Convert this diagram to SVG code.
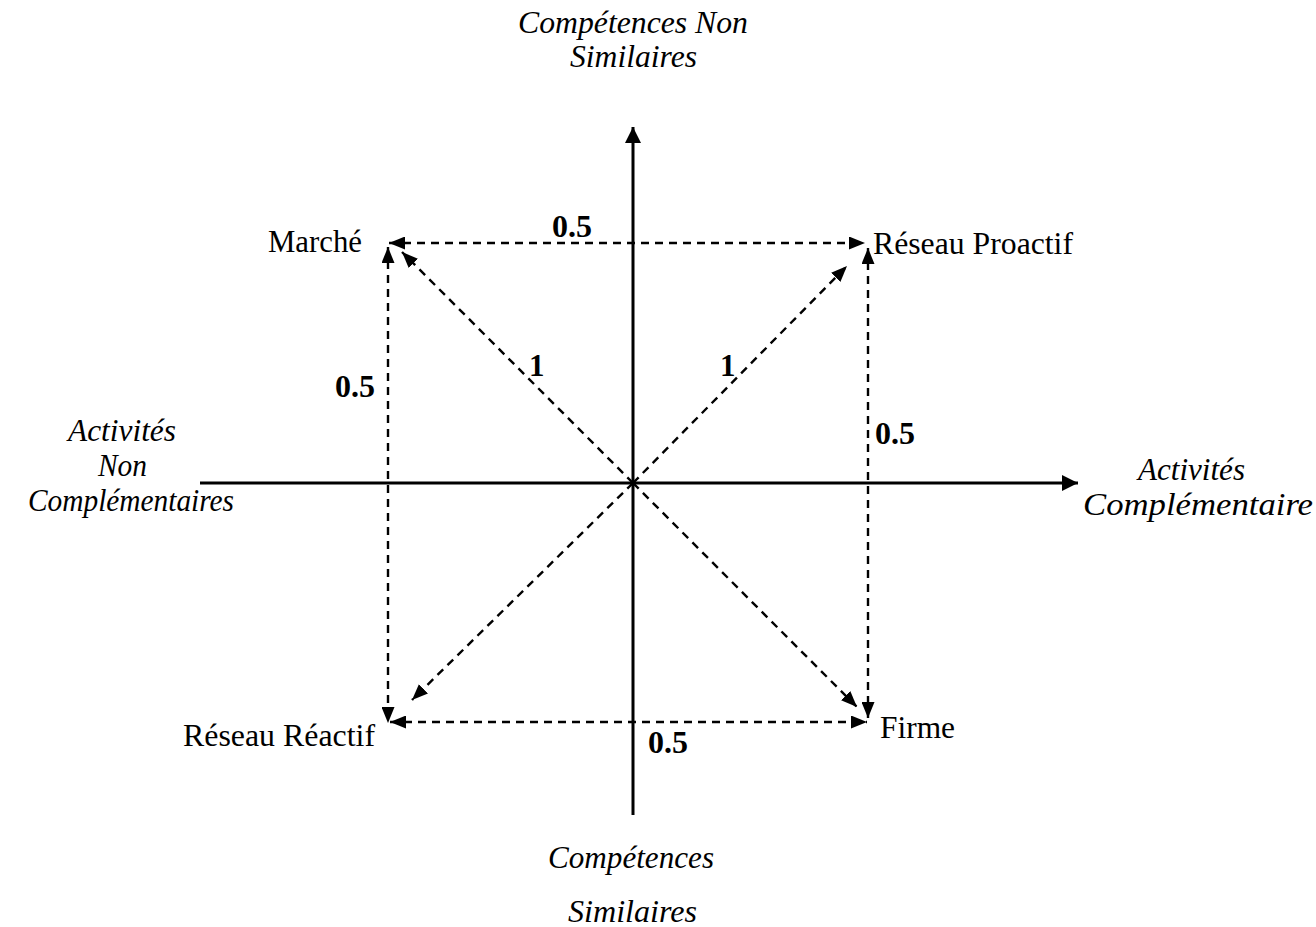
<svg xmlns="http://www.w3.org/2000/svg" width="1316" height="927" viewBox="0 0 1316 927">
<defs>
<marker id="ah" viewBox="0 0 16 13" refX="16" refY="6.5" markerWidth="16" markerHeight="13" markerUnits="userSpaceOnUse" orient="auto-start-reverse">
<path d="M0,0 L16,6.5 L0,13 z" fill="#000"/>
</marker>
<marker id="axh" viewBox="0 0 16 16" refX="16" refY="8" markerWidth="16" markerHeight="16" markerUnits="userSpaceOnUse" orient="auto">
<path d="M0,0 L16,8 L0,16 z" fill="#000"/>
</marker>
<style>
.axis{stroke:#000;stroke-width:3;fill:none}
.dash{stroke:#000;stroke-width:2.4;fill:none;stroke-dasharray:8,6}
.it{font-family:"Liberation Serif",serif;font-style:italic;font-size:31px;fill:#000}
.lbl{font-family:"Liberation Serif",serif;font-size:31px;fill:#000}
.num{font-family:"Liberation Serif",serif;font-weight:bold;font-size:31px;fill:#000}
</style>
</defs>
<rect width="1316" height="927" fill="#fff"/>
<g id="connectors">
<line class="axis" x1="633" y1="815" x2="633" y2="127" marker-end="url(#axh)"/>
<line class="axis" x1="200" y1="483" x2="1078" y2="483" marker-end="url(#axh)"/>
<line class="dash" x1="389" y1="243" x2="865" y2="243" marker-start="url(#ah)" marker-end="url(#ah)"/>
<line class="dash" x1="388" y1="247" x2="388" y2="723" marker-start="url(#ah)" marker-end="url(#ah)"/>
<line class="dash" x1="868" y1="248" x2="868" y2="718" marker-start="url(#ah)" marker-end="url(#ah)"/>
<line class="dash" x1="390" y1="722" x2="867" y2="722" marker-start="url(#ah)" marker-end="url(#ah)"/>
<line class="dash" x1="633" y1="483" x2="402" y2="252" marker-end="url(#ah)"/>
<line class="dash" x1="633" y1="483" x2="847" y2="266" marker-end="url(#ah)"/>
<line class="dash" x1="633" y1="483" x2="412" y2="700" marker-end="url(#ah)"/>
<line class="dash" x1="633" y1="483" x2="857" y2="707" marker-end="url(#ah)"/>
</g>
<g id="axis-top">
<text class="it" x="518" y="33" textLength="230" lengthAdjust="spacingAndGlyphs">Compétences Non</text>
<text class="it" x="570" y="67" textLength="127" lengthAdjust="spacingAndGlyphs">Similaires</text>
</g>
<g id="axis-bottom">
<text class="it" x="548" y="868" textLength="166" lengthAdjust="spacingAndGlyphs">Compétences</text>
<text class="it" x="568" y="922" textLength="129" lengthAdjust="spacingAndGlyphs">Similaires</text>
</g>
<g id="axis-left">
<text class="it" x="68" y="441" textLength="108" lengthAdjust="spacingAndGlyphs">Activités</text>
<text class="it" x="98" y="476" textLength="49" lengthAdjust="spacingAndGlyphs">Non</text>
<text class="it" x="28" y="511" textLength="206" lengthAdjust="spacingAndGlyphs">Complémentaires</text>
</g>
<g id="axis-right">
<text class="it" x="1138" y="480" textLength="107" lengthAdjust="spacingAndGlyphs">Activités</text>
<text class="it" x="1083" y="515" textLength="230" lengthAdjust="spacingAndGlyphs">Complémentaire</text>
</g>
<g id="node-marche"><text class="lbl" x="268" y="252" textLength="94" lengthAdjust="spacingAndGlyphs">Marché</text></g>
<g id="node-reseau-proactif"><text class="lbl" x="873" y="254" textLength="200" lengthAdjust="spacingAndGlyphs">Réseau Proactif</text></g>
<g id="node-reseau-reactif"><text class="lbl" x="183" y="746" textLength="192" lengthAdjust="spacingAndGlyphs">Réseau Réactif</text></g>
<g id="node-firme"><text class="lbl" x="880" y="738" textLength="75" lengthAdjust="spacingAndGlyphs">Firme</text></g>
<g id="weights">
<text class="num" x="552" y="237" textLength="40" lengthAdjust="spacingAndGlyphs">0.5</text>
<text class="num" x="335" y="397" textLength="40" lengthAdjust="spacingAndGlyphs">0.5</text>
<text class="num" x="529" y="376">1</text>
<text class="num" x="720" y="376">1</text>
<text class="num" x="875" y="444" textLength="40" lengthAdjust="spacingAndGlyphs">0.5</text>
<text class="num" x="648" y="753" textLength="40" lengthAdjust="spacingAndGlyphs">0.5</text>
</g>
</svg>
